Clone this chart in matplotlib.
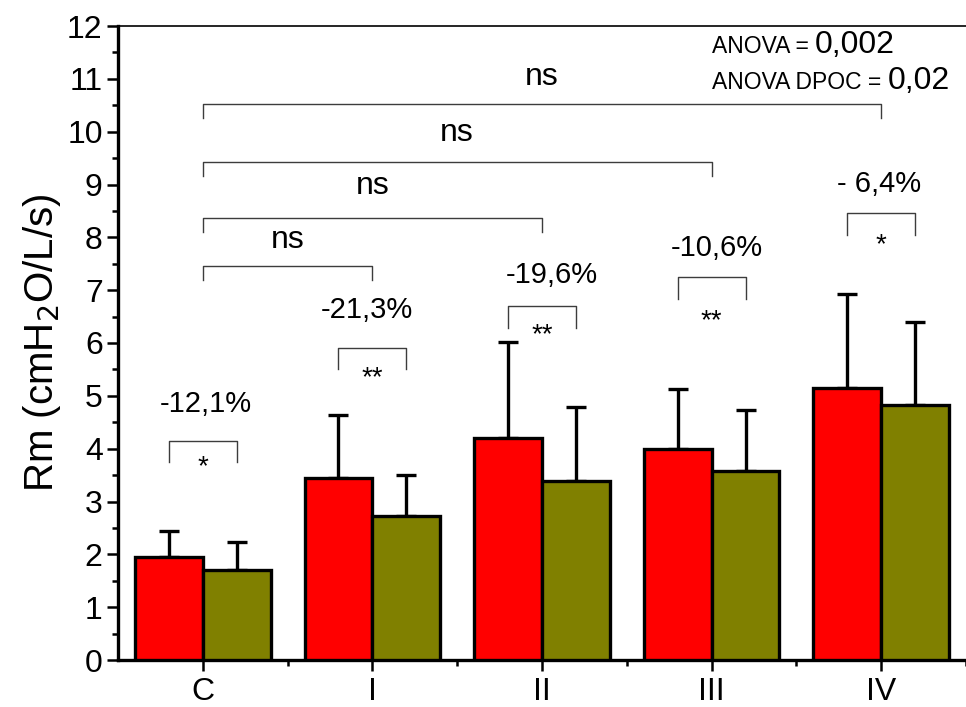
import matplotlib
matplotlib.use("Agg")
import matplotlib.pyplot as plt
import numpy as np
from matplotlib.ticker import MultipleLocator

plt.rcParams['font.family'] = ['Liberation Sans', 'DejaVu Sans']

groups = ["C", "I", "II", "III", "IV"]
red_vals = [1.95, 3.45, 4.21, 4.00, 5.15]
red_err = [0.50, 1.19, 1.81, 1.12, 1.77]
green_vals = [1.71, 2.72, 3.39, 3.58, 4.83]
green_err = [0.53, 0.78, 1.39, 1.16, 1.56]
pct_labels = ["-12,1%", "-21,3%", "-19,6%", "-10,6%", "- 6,4%"]
pair_stars = ["*", "**", "**", "**", "*"]
ns_targets = [1, 2, 3, 4]

W, H = 966, 707
fig = plt.figure(figsize=(W / 100, H / 100), dpi=100)
ax = fig.add_axes([118 / W, 47 / H, 848 / W, 634 / H])

x = np.arange(len(groups))
bw = 0.4
ax.bar(x - bw / 2, red_vals, bw, color="#ff0000", edgecolor="black", linewidth=2.4, zorder=3)
ax.bar(x + bw / 2, green_vals, bw, color="#808000", edgecolor="black", linewidth=2.4, zorder=3)
ax.errorbar(x - bw / 2, red_vals, yerr=[np.zeros(5), red_err], fmt="none", ecolor="black",
            elinewidth=2.4, capsize=7, capthick=2.4, zorder=2)
ax.errorbar(x + bw / 2, green_vals, yerr=[np.zeros(5), green_err], fmt="none", ecolor="black",
            elinewidth=2.4, capsize=7, capthick=2.4, zorder=2)

ax.set_xlim(-0.5, 4.5)
ax.set_ylim(0, 12)
ax.set_xticks(x)
ax.set_xticklabels(groups)
ax.set_xticks(x + 0.5, minor=True)
ax.xaxis.set_minor_formatter(plt.NullFormatter())
ax.yaxis.set_major_locator(MultipleLocator(1))
ax.yaxis.set_minor_locator(MultipleLocator(0.5))
ax.tick_params(axis="both", which="major", direction="out", length=8, width=1.8, labelsize=23)
ax.tick_params(axis="both", which="minor", direction="out", length=4, width=1.8)
ax.tick_params(axis="y", which="major", pad=3)
ax.tick_params(axis="x", which="major", pad=4)

for s in ["left", "bottom"]:
    ax.spines[s].set_linewidth(2.4)
ax.spines["top"].set_linewidth(1.2)
ax.spines["right"].set_visible(False)

ax.set_ylabel(r"Rm (cmH$_2$O/L/s)", fontsize=29, labelpad=3)

# small brackets between paired bars
br_y = [4.15, 5.91, 6.70, 7.25, 8.46]
star_top = [3.90, 5.58, 6.40, 6.66, 8.10]
pct_y = [4.85, 6.62, 7.29, 7.80, 9.01]
pct_dx = [0.02, -0.03, 0.06, 0.03, -0.01]
leg = 0.41
bcol = "#3c3c3c"
for i in range(5):
    ax.plot([i - 0.2, i - 0.2, i + 0.2, i + 0.2], [br_y[i] - leg, br_y[i], br_y[i], br_y[i] - leg],
            color=bcol, lw=1.0, zorder=4)
    ax.text(i, star_top[i], pair_stars[i], ha="center", va="top", fontsize=20)
    ax.text(i + pct_dx[i], pct_y[i], pct_labels[i], ha="center", va="center", fontsize=21)

# big brackets from C
big_y = [7.46, 8.37, 9.43, 10.52]
ns_y = [7.95, 8.97, 9.98, 11.04]
for k, t in enumerate(ns_targets):
    yb = big_y[k]
    ax.plot([0, 0, t, t], [yb - 0.26, yb, yb, yb - 0.26], color=bcol, lw=1.0, zorder=4)
    ax.text(t / 2, ns_y[k], "ns", ha="center", va="center", fontsize=23)

# ANOVA annotations with mixed font sizes
fig.canvas.draw()
r = fig.canvas.get_renderer()
for base, num, yy in [("ANOVA = ", "0,002", 53), ("ANOVA DPOC = ", "0,02", 89)]:
    t1 = fig.text(712 / W, 1 - yy / H, base, fontsize=16.5, va="baseline", ha="left")
    bb = t1.get_window_extent(renderer=r)
    fig.text(bb.x1 / W, 1 - yy / H, num, fontsize=23, va="baseline", ha="left")

fig.savefig("out.png", dpi=100)
